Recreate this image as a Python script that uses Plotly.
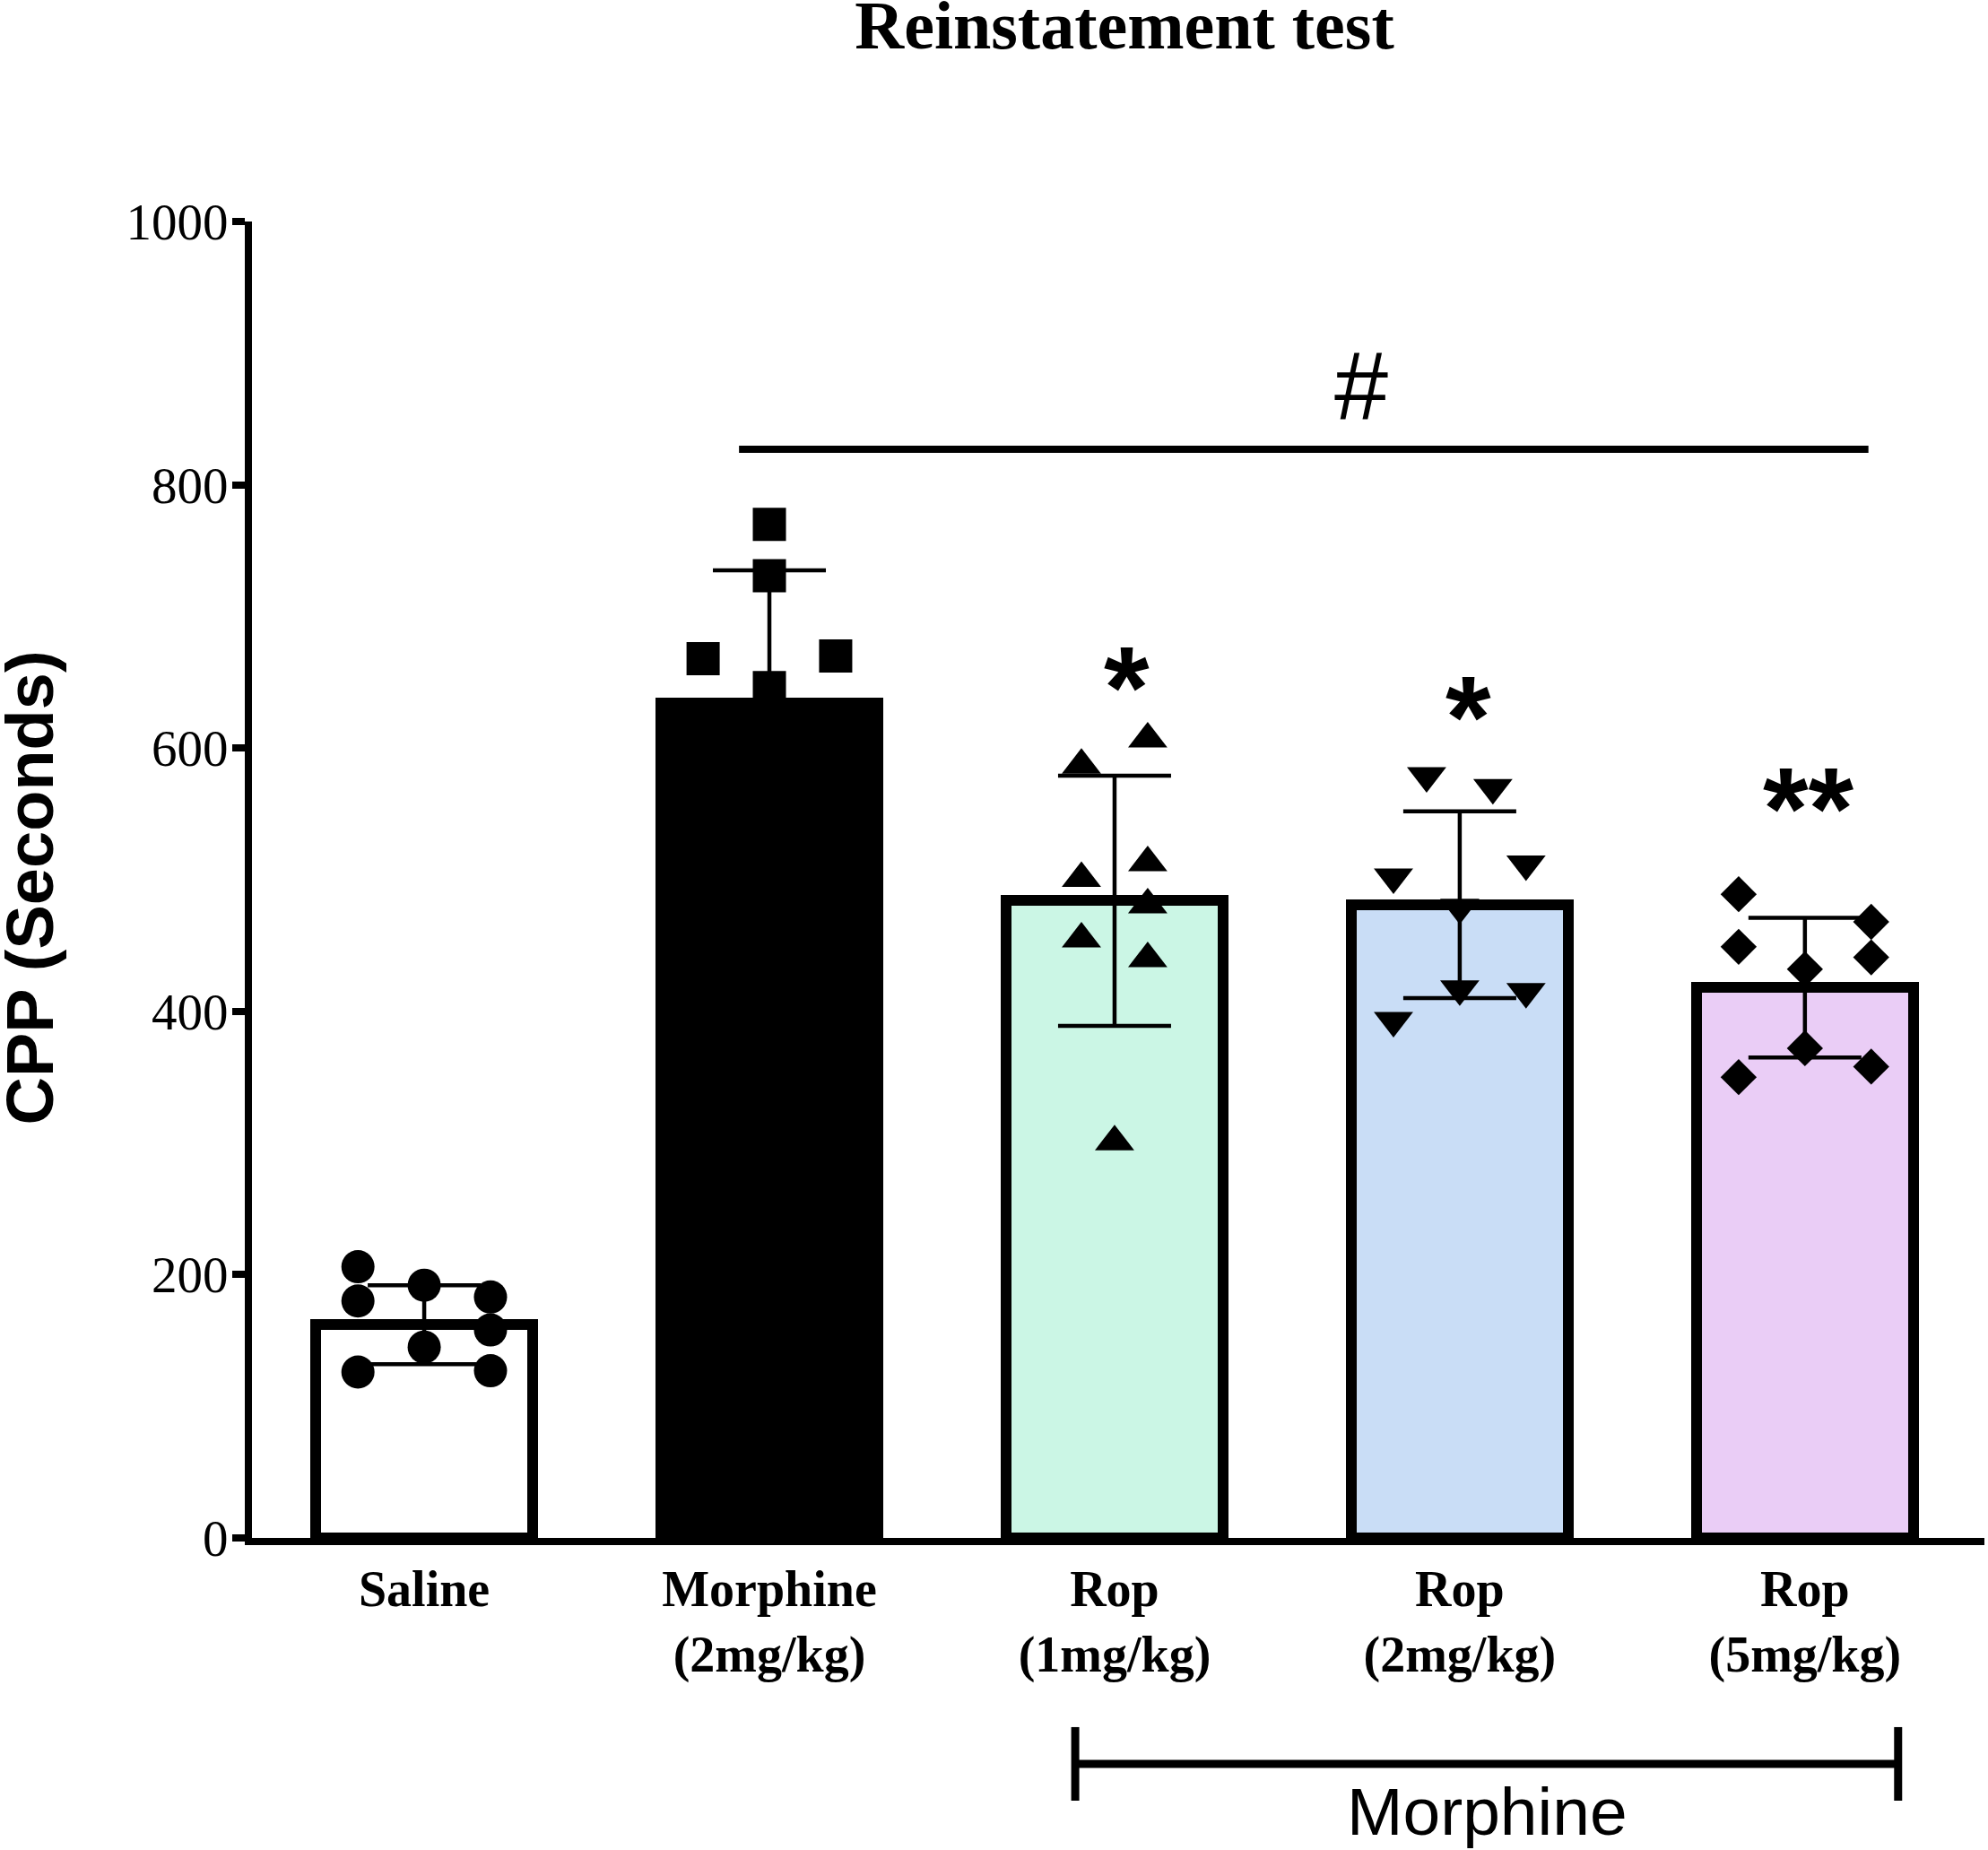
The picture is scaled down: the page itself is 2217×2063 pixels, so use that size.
import plotly.graph_objects as go

# group labels and summary values (bar height, SD)
groups = ["Saline", "Morphine<br>(2mg/kg)", "Rop<br>(1mg/kg)", "Rop<br>(2mg/kg)", "Rop<br>(5mg/kg)"]
means = [162, 634, 484, 481, 418]
sds = [30, 101, 95, 71, 53]
fills = ["white", "black", "rgb(203,246,229)", "rgb(201,221,246)", "rgb(234,205,246)"]

# individual animals
saline_pts = [206, 180, 126, 192, 145, 183, 158, 127]
morphine_pts = [770, 731, 668, 670, 646]
rop1_pts = [607, 587, 513, 501, 481, 455, 440, 301]
rop2_pts = [579, 570, 512, 502, 479, 417, 415, 393]
rop5_pts = [489, 468, 449, 441, 432, 372, 358, 350]

# horizontal scatter column of each point (-2..2)
saline_col = [-2, -2, -2, 0, 0, 2, 2, 2]
morphine_col = [0, 0, -2, 2, 0]
rop1_col = [1, -1, 1, -1, 1, -1, 1, 0]
rop2_col = [-1, 1, 2, -2, 0, 0, 2, -2]
rop5_col = [-2, 2, -2, 2, 0, 0, 2, -2]

stars = ["", "", "*", "*", "**"]
star_y = [0, 0, 666, 643, 574]
star_dx = [0, 0, 0.035, 0.025, 0.01]

SERIF = "Liberation Serif"
SANS = "Liberation Sans"
step = 0.096  # spacing of scatter columns, in category units

W, H = 2217, 2063

fig = go.Figure()

xs = list(range(len(groups)))
fig.add_trace(go.Bar(
    x=xs, y=means, width=0.63,
    marker=dict(color=fills, line=dict(color="black", width=12)),
    error_y=dict(type="data", array=sds, visible=True, color="black", thickness=4.5, width=63),
    showlegend=False, hoverinfo="skip",
))

point_sets = [
    (saline_pts, saline_col, "circle", 37),
    (morphine_pts, morphine_col, "square", 37),
    (rop1_pts, rop1_col, "triangle-up", 38),
    (rop2_pts, rop2_col, "triangle-down", 38),
    (rop5_pts, rop5_col, "diamond", 31),
]
for i, (pts, cols, sym, size) in enumerate(point_sets):
    fig.add_trace(go.Scatter(
        x=[i + c * step for c in cols], y=pts, mode="markers",
        marker=dict(symbol=sym, size=size, color="black", line=dict(width=0)),
        showlegend=False, hoverinfo="skip",
    ))

# significance marks
for i, s in enumerate(stars):
    if s:
        fig.add_annotation(x=i + star_dx[i], y=star_y[i] - 20, text="<b>%s</b>" % s, showarrow=False,
                           font=dict(family=SANS, size=130, color="black"),
                           xanchor="center", yanchor="middle")

fig.add_shape(type="line", x0=0.912, x1=4.184, y0=827, y1=827, xref="x", yref="y",
              line=dict(color="black", width=8))
fig.add_annotation(x=2.714, y=876, text="#", showarrow=False,
                   font=dict(family=SANS, size=108, color="black"),
                   xanchor="center", yanchor="middle")

# Morphine bracket below the axis
fig.add_shape(type="line", x0=1.886, x1=4.27, y0=-0.1717, y1=-0.1717, xref="x", yref="paper",
              line=dict(color="black", width=9))
for xb in (1.886, 4.27):
    fig.add_shape(type="line", x0=xb, x1=xb, y0=-0.1437, y1=-0.1996, xref="x", yref="paper",
                  line=dict(color="black", width=9))
fig.add_annotation(x=3.08, y=-0.208, xref="x", yref="paper", text="Morphine", showarrow=False,
                   font=dict(family=SANS, size=75, color="black"),
                   xanchor="center", yanchor="middle")

# y axis title
fig.add_annotation(x=-0.128, y=0.494, xref="paper", yref="paper", text="<b>CPP (Seconds)</b>",
                   textangle=-90, showarrow=False,
                   font=dict(family=SANS, size=74, color="black"),
                   xanchor="center", yanchor="middle")

fig.update_layout(
    width=W, height=H, autosize=False,
    margin=dict(l=281, r=4, t=247, b=348, pad=0),
    paper_bgcolor="white", plot_bgcolor="white",
    title=dict(text="<b>Reinstatement test</b>", x=1254 / W, xref="container", xanchor="center",
               y=1 - 54 / H, yref="container", yanchor="bottom",
               font=dict(family=SERIF, size=76, color="black")),
    bargap=0,
)
fig.update_xaxes(
    range=[-0.499, 4.52], tickvals=xs, ticktext=["<b>%s</b>" % g for g in groups],
    showline=True, linewidth=8, linecolor="black", ticks="", showgrid=False, zeroline=False,
    tickfont=dict(family=SERIF, size=56, color="black"), ticklabelstandoff=1,
)
fig.update_yaxes(
    range=[0, 1000], tickvals=[0, 200, 400, 600, 800, 1000],
    showline=True, linewidth=8, linecolor="black", ticks="outside", ticklen=14, tickwidth=8,
    tickcolor="black", showgrid=False, zeroline=False,
    tickfont=dict(family=SERIF, size=57, color="black"), ticklabelstandoff=-7,
)

# drop the default page margin so the figure fills the window exactly
fig.write_html("out.html", config={"displayModeBar": False},
               post_script="document.body.style.margin = '0';")
